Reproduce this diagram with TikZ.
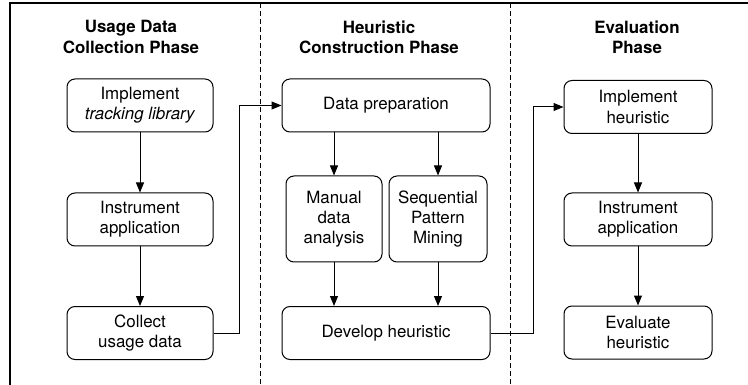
\documentclass[tikz,border=0pt]{standalone}
\usepackage{fontspec}
\setmainfont{TeX Gyre Heros}
\usepackage{tikz}
\usetikzlibrary{arrows.meta}

\begin{document}
\begin{tikzpicture}[x=1pt,y=-1pt,
  font=\fontsize{16.9}{20.3}\selectfont,
  stepbox/.style={draw, line width=1pt, rounded corners=8pt, align=center, inner sep=0pt},
  phase/.style={align=center, font=\fontsize{16.9}{20.3}\selectfont\bfseries},
  flow/.style={line width=1pt, -{Triangle[length=10pt,width=8pt]}},
  divider/.style={line width=0.8pt, dash pattern=on 5pt off 3pt}]
  \useasboundingbox (0,0) rectangle (748,385);
  \draw[line width=1.3pt] (10,385) -- (10,3) -- (748,3);
  \draw[divider] (260,3) -- (260,385);
  \draw[divider] (510,3) -- (510,385);
  \node[phase] (t1) at (131,37) {Usage Data\\Collection Phase};
  \node[phase] (t2) at (379,37) {Heuristic\\Construction Phase};
  \node[phase] (t3) at (637,37) {Evaluation\\Phase};
  \node[stepbox, minimum width=146pt, minimum height=53pt] (impl) at (140,105.5) {Implement\\\textit{tracking library}};
  \node[stepbox, minimum width=146pt, minimum height=53pt] (instr) at (140,219.5) {Instrument\\application};
  \node[stepbox, minimum width=146pt, minimum height=53pt] (collect) at (140,333) {Collect\\usage data};
  \node[stepbox, minimum width=208pt, minimum height=53pt] (prep) at (386,105.5) {Data preparation};
  \node[stepbox, minimum width=96pt, minimum height=86pt] (manual) at (334,219) {Manual\\data\\analysis};
  \node[stepbox, minimum width=98pt, minimum height=86pt] (spm) at (438,219) {Sequential\\Pattern\\Mining};
  \node[stepbox, minimum width=208pt, minimum height=53pt] (develop) at (386,333) {Develop heuristic};
  \node[stepbox, minimum width=148pt, minimum height=53pt] (implh) at (638,107) {Implement\\heuristic};
  \node[stepbox, minimum width=148pt, minimum height=53pt] (instrh) at (638,219.5) {Instrument\\application};
  \node[stepbox, minimum width=148pt, minimum height=53pt] (evalh) at (638,332.5) {Evaluate\\heuristic};
  \draw[flow] (impl) -- (instr);
  \draw[flow] (instr) -- (collect);
  \draw[flow] (collect.east) -- ++(26,0) |- (prep.west);
  \draw[flow] (prep.south -| manual) -- (manual);
  \draw[flow] (prep.south -| spm) -- (spm);
  \draw[flow] (manual) -- (manual |- develop.north);
  \draw[flow] (spm) -- (spm |- develop.north);
  \draw[flow] (develop.east) -- ++(43,0) |- (implh.west);
  \draw[flow] (implh) -- (instrh);
  \draw[flow] (instrh) -- (evalh);
\end{tikzpicture}
\end{document}
